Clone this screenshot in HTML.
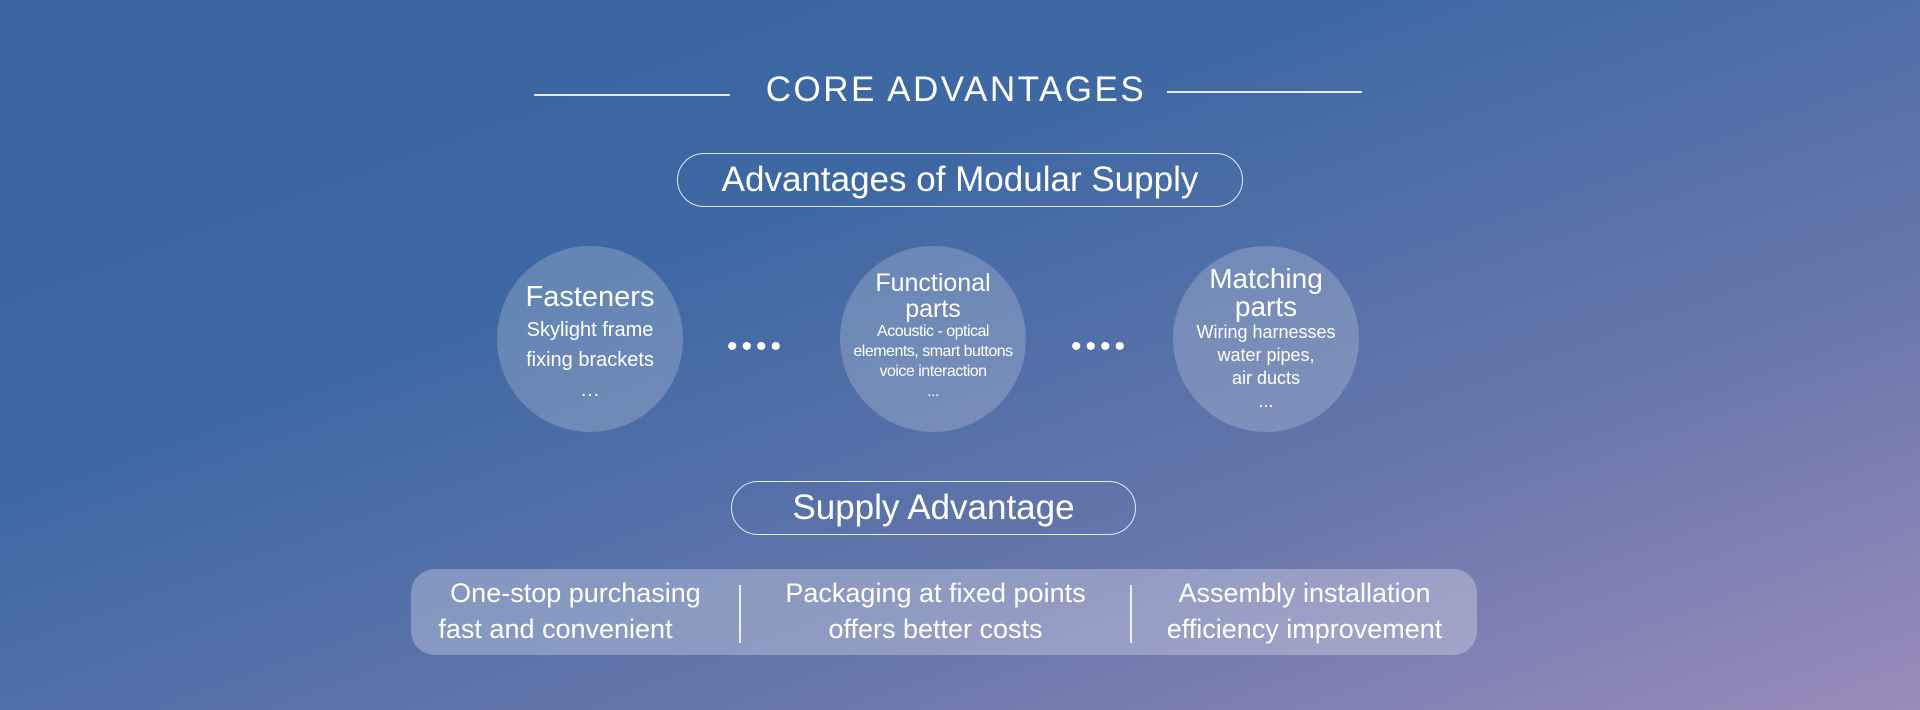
<!DOCTYPE html>
<html><head><meta charset="utf-8"><style>
*{margin:0;padding:0;box-sizing:border-box}
body{width:1920px;height:710px;overflow:hidden;font-family:"Liberation Sans",sans-serif;color:#fff;
background:linear-gradient(160deg,#3a64a0 0%,#3e68a3 35%,#6877ac 70%,#9a8bbb 100%);position:relative}
.a{position:absolute}
.line{height:1.5px;background:rgba(255,255,255,.85)}
.pill{border:1.5px solid rgba(255,255,255,.85);border-radius:40px;display:flex;align-items:center;justify-content:center}
.c{width:186px;height:186px;border-radius:50%;background:rgba(255,255,255,.2);text-align:center;display:flex;flex-direction:column;justify-content:center;align-items:center}
.dots{font-size:30px;letter-spacing:4px;line-height:1}
.box{background:rgba(255,255,255,.28);border-radius:24px}
.col{text-align:center;font-size:27px;line-height:36px}
.div{width:2px;background:rgba(255,255,255,.85)}
</style></head><body>
<div class="a line" style="left:534px;top:94px;width:196px"></div>
<div class="a line" style="left:1167px;top:91px;width:195px"></div>
<div class="a" style="left:730px;top:70px;width:452px;text-align:center;font-size:35px;letter-spacing:2.5px">CORE ADVANTAGES</div>
<div class="a pill" style="left:677px;top:153px;width:566px;height:54px;font-size:35px">Advantages of Modular Supply</div>

<div class="a c" style="left:497px;top:246px"><div style="font-size:29px;line-height:36px;margin-top:6px">Fasteners</div><div style="font-size:20px;line-height:30px">Skylight frame<br>fixing brackets<br>…</div></div>
<div class="a dots" style="left:727px;top:332px">••••</div>
<div class="a c" style="left:840px;top:246px"><div style="font-size:25px;line-height:26px;margin-top:-6px">Functional<br>parts</div><div style="font-size:16px;line-height:20px;letter-spacing:-.5px">Acoustic - optical<br>elements, smart buttons<br>voice interaction<br>...</div></div>
<div class="a dots" style="left:1071px;top:332px">••••</div>
<div class="a c" style="left:1173px;top:246px"><div style="font-size:28px;line-height:28px;margin-top:0px">Matching<br>parts</div><div style="font-size:18px;line-height:23px">Wiring harnesses<br>water pipes,<br>air ducts<br>...</div></div>

<div class="a pill" style="left:731px;top:481px;width:405px;height:54px;font-size:35px">Supply Advantage</div>

<div class="a box" style="left:411px;top:569px;width:1066px;height:86px"></div>
<div class="a col" style="left:411px;top:575px;width:329px">One-stop purchasing<br><span style="margin-left:-40px">fast and convenient</span></div>
<div class="a div" style="left:739px;top:585px;height:58px"></div>
<div class="a col" style="left:741px;top:575px;width:389px">Packaging at fixed points<br>offers better costs</div>
<div class="a div" style="left:1130px;top:585px;height:58px"></div>
<div class="a col" style="left:1132px;top:575px;width:345px">Assembly installation<br>efficiency improvement</div>
</body></html>
